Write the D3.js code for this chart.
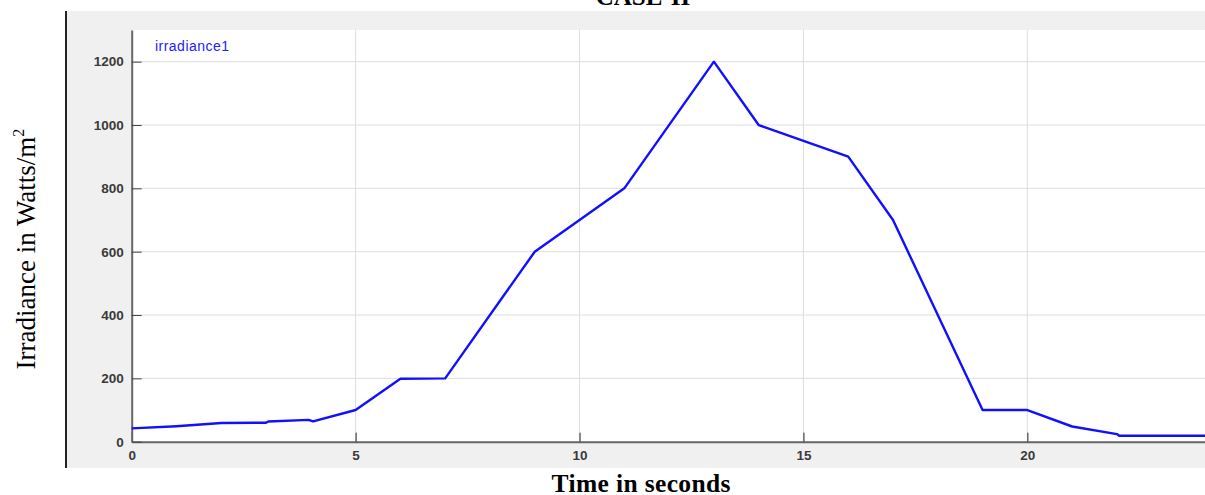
<!DOCTYPE html>
<html>
<head>
<meta charset="utf-8">
<script src="https://cdn.jsdelivr.net/npm/d3@7"></script>
<style>
body { margin: 0; background: #fff; }
svg { display: block; }
.tick text { font-family: "Liberation Sans", Arial, sans-serif; font-weight: bold; font-size: 13.5px; fill: #3a3a3a; }
</style>
</head>
<body>
<svg width="1205" height="495"></svg>
<script>
// time (s) and irradiance (W/m^2)
const timeValues = [0, 1, 2, 3, 3.05, 3.95, 4.05, 5, 6, 7, 9, 11, 13, 14, 16, 17, 19, 20, 21, 22, 22.05, 24]
const irradianceValues = [42, 49, 59, 60, 64, 69, 64, 100, 199, 200, 600, 800, 1200, 1000, 900, 700, 100, 100, 48, 24, 19, 19]
const xTicks = [0, 5, 10, 15, 20]
const yTicks = [0, 200, 400, 600, 800, 1000, 1200]
const seriesName = "irradiance1"

const svg = d3.select("svg")

const plotLeft = 131.7, plotRight = 1206.5, plotTop = 30, plotBottom = 441.7

const x = d3.scaleLinear().domain([0, 24]).range([plotLeft, plotRight])
const y = d3.scaleLinear().domain([0, 1300]).range([plotBottom, plotTop])

// grey panel + dark left border
svg.append("rect")
    .attr("x", 66).attr("y", 11)
    .attr("width", 1205 - 66).attr("height", 457)
    .attr("fill", "#f0f0f0")
svg.append("line")
    .attr("x1", 66).attr("x2", 66).attr("y1", 11).attr("y2", 468)
    .attr("stroke", "#222").attr("stroke-width", 2)

// plot area
svg.append("rect")
    .attr("x", plotLeft).attr("y", plotTop)
    .attr("width", plotRight - plotLeft).attr("height", plotBottom - plotTop)
    .attr("fill", "#fff")

// grid
svg.append("g")
    .selectAll("line")
    .data(xTicks.filter(d => d > 0))
    .join("line")
    .attr("x1", d => x(d)).attr("x2", d => x(d))
    .attr("y1", plotTop).attr("y2", plotBottom)
    .attr("stroke", "#dedede")
svg.append("g")
    .selectAll("line")
    .data(yTicks.filter(d => d > 0))
    .join("line")
    .attr("x1", plotLeft).attr("x2", plotRight)
    .attr("y1", d => y(d)).attr("y2", d => y(d))
    .attr("stroke", "#dedede")

// axes
const xAxis = svg.append("g")
    .attr("transform", "translate(0," + plotBottom + ")")
    .call(d3.axisBottom(x).tickValues(xTicks).tickFormat(d3.format("d"))
        .tickSizeInner(-9).tickSizeOuter(0).tickPadding(7))
xAxis.select(".domain").attr("stroke", "#666").attr("stroke-width", 2)
xAxis.selectAll(".tick line").attr("stroke", "#222")
xAxis.selectAll(".tick text").attr("dy", "0.85em")

const yAxis = svg.append("g")
    .attr("transform", "translate(" + plotLeft + ",0)")
    .call(d3.axisLeft(y).tickValues(yTicks).tickFormat(d3.format("d"))
        .tickSizeInner(-10).tickSizeOuter(0).tickPadding(8))
yAxis.select(".domain").attr("stroke", "#666").attr("stroke-width", 2)
yAxis.selectAll(".tick line").attr("stroke", "#444")

// series
const line = d3.line()
    .x((d, i) => x(timeValues[i]))
    .y(d => y(d))
svg.append("path")
    .datum(irradianceValues)
    .attr("d", line)
    .attr("fill", "none")
    .attr("stroke", "#1010ff")
    .attr("stroke-width", 2.4)
    .attr("stroke-linejoin", "round")

// legend
svg.append("text")
    .attr("x", 155).attr("y", 50.5)
    .attr("font-family", "Liberation Sans, Arial, sans-serif")
    .attr("font-size", 14)
    .attr("textLength", 74)
    .attr("fill", "#2020ff")
    .text(seriesName)

// title (cut off at the top in the original)
svg.append("text")
    .attr("x", 643).attr("y", 5)
    .attr("text-anchor", "middle")
    .attr("font-family", "Liberation Serif, Times New Roman, serif")
    .attr("font-weight", "bold")
    .attr("font-size", 25)
    .text("CASE-II")

// axis titles
svg.append("text")
    .attr("x", 641).attr("y", 491.5)
    .attr("text-anchor", "middle")
    .attr("font-family", "Liberation Serif, Times New Roman, serif")
    .attr("font-weight", "bold")
    .attr("font-size", 25.5)
    .attr("textLength", 179)
    .text("Time in seconds")

const yl = svg.append("text")
    .attr("transform", "translate(35,249) rotate(-90)")
    .attr("text-anchor", "middle")
    .attr("font-family", "Liberation Serif, Times New Roman, serif")
    .attr("font-size", 27)
yl.append("tspan").text("Irradiance in Watts/m")
yl.append("tspan").attr("font-size", 16).attr("dy", -11).text("2")
</script>
</body>
</html>
